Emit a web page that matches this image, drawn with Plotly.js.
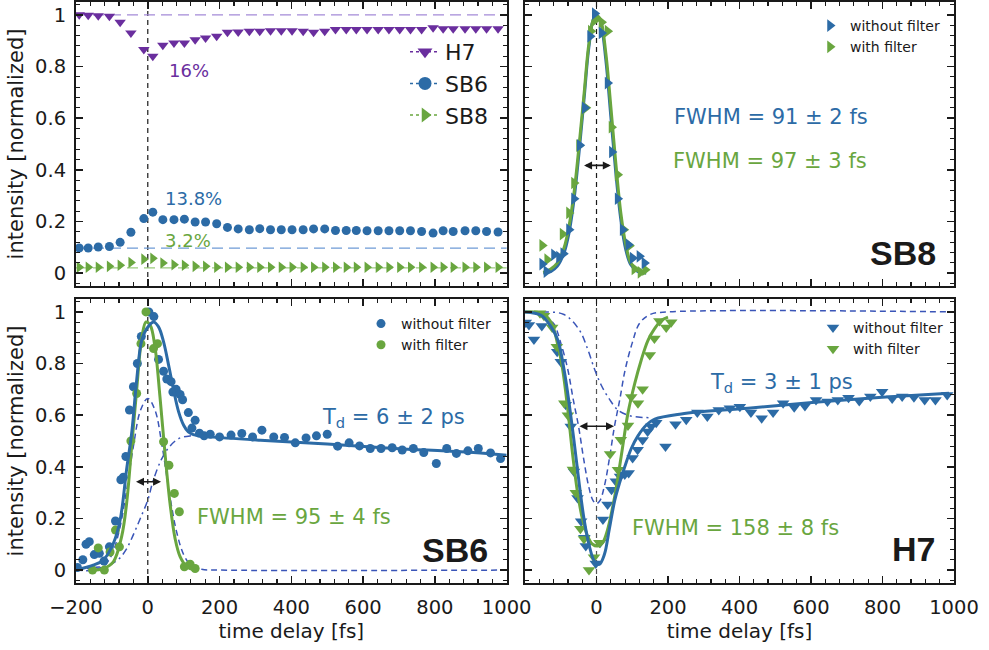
<!DOCTYPE html>
<html><head><meta charset="utf-8">
<script src="https://cdn.plot.ly/plotly-3.0.1.min.js"></script>
<style>html,body{margin:0;padding:0;background:#fff}</style>
</head><body><div id="chart" style="width:989px;height:650px"></div>
<script>
// ---------- Top-left: relative intensities vs delay ----------
const delaysTL = [-191,-166,-138,-107,-77,-47,-11,14,42,73,102,132,161,192,222,252,283,312,342,372,402,433,462,493,523,553,581,611,642,672,702,732,763,795,823,851,884,914,944,976];
const h7TL  = [1.001,0.999,0.997,0.995,0.972,0.930,0.866,0.840,0.882,0.891,0.891,0.904,0.911,0.917,0.933,0.934,0.937,0.937,0.939,0.939,0.939,0.937,0.933,0.937,0.943,0.943,0.943,0.943,0.943,0.943,0.943,0.943,0.943,0.950,0.946,0.946,0.946,0.946,0.946,0.946];
const sb6TL = [0.097,0.097,0.101,0.103,0.119,0.158,0.211,0.236,0.207,0.207,0.209,0.198,0.198,0.191,0.177,0.171,0.168,0.172,0.168,0.168,0.168,0.168,0.171,0.171,0.165,0.165,0.165,0.164,0.164,0.164,0.164,0.164,0.161,0.155,0.164,0.161,0.164,0.164,0.161,0.159];
const sb8TL = [0.023,0.023,0.023,0.026,0.030,0.041,0.054,0.057,0.039,0.032,0.030,0.026,0.026,0.023,0.023,0.023,0.023,0.023,0.023,0.023,0.023,0.023,0.023,0.023,0.023,0.023,0.023,0.023,0.023,0.023,0.023,0.023,0.023,0.023,0.023,0.023,0.023,0.023,0.023,0.023];
const baseLevelsTL = {h7: 1.0, sb6: 0.097, sb8: 0.02};
const namesTL = ['H7','SB6','SB8'];
const pctLabels = ['16%','13.8%','3.2%'];

// ---------- Top-right: SB8 ----------
const sb8NoX = [-152,-140,-119,-105,-93,-77,-63,-47,-33,-18,-5,14,31,43,59,73,89,101,120,134];
const sb8NoY = [0.035,0.006,0.071,0.062,0.075,0.168,0.288,0.495,0.640,0.917,1.005,0.930,0.736,0.469,0.288,0.168,0.110,0.058,0.065,0.039];
const sb8WiX = [-152,-138,-95,-77,-63,-49,-30,-16,-2,14,31,42,59,76,92,106,123,136];
const sb8WiY = [0.107,0.052,0.151,0.233,0.349,0.494,0.640,0.937,0.982,0.972,0.937,0.565,0.381,0.168,0.106,0.016,0.003,0.013];
const sb8FitX = [-149,-128,-110,-91,-77,-63,-49,-35,-21,-7,3,12,26,40,54,68,82,96,115,139];
const sb8FitNoY = [0.0,0.006,0.026,0.078,0.155,0.284,0.465,0.672,0.879,0.988,0.995,0.969,0.827,0.607,0.388,0.207,0.090,0.032,0.006,0.0];
const sb8FitWiY = [0.003,0.016,0.039,0.097,0.181,0.310,0.491,0.691,0.891,0.988,0.995,0.979,0.853,0.646,0.426,0.233,0.110,0.039,0.010,0.0];

// ---------- Bottom-left: SB6 ----------
const sb6NoX = [-196,-181,-172,-163,-149,-135,-122,-107,-90,-75,-68,-61,-51,-40,-29,-18,3,17,30,44,53,65,70,79,90,97,113,123,132,144,157,174,200,232,262,292,318,351,381,411,441,470,500,529,561,590,620,650,681,709,740,769,804,833,860,892,921,955,983];
const sb6NoY = [0.01,0.04,0.10,0.11,0.06,0.065,0.035,0.09,0.19,0.35,0.36,0.44,0.62,0.71,0.80,0.905,1.0,0.982,0.816,0.77,0.74,0.73,0.69,0.70,0.68,0.66,0.61,0.55,0.58,0.53,0.52,0.526,0.516,0.523,0.529,0.516,0.542,0.516,0.514,0.493,0.512,0.520,0.526,0.480,0.493,0.481,0.471,0.471,0.474,0.465,0.471,0.455,0.413,0.471,0.452,0.462,0.471,0.454,0.432];
const sb6WiX = [-154,-138,-121,-105,-90,-79,-47,-31,-19,-5,16,27,44,59,74,88,102,118,132];
const sb6WiY = [0.0,0.086,0.0,0.07,0.155,0.09,0.50,0.684,0.877,1.0,0.858,0.877,0.497,0.406,0.297,0.226,0.013,0.023,0.006];
const sb6FitNoX = [-200,-152,-124,-96,-77,-59,-45,-31,-17,-3,16,30,44,58,72,86,100,113,127,146,174,314,500,686,872,1000];
const sb6FitNoY = [0.0,0.019,0.039,0.103,0.194,0.39,0.529,0.735,0.890,0.935,0.961,0.942,0.884,0.794,0.697,0.613,0.561,0.535,0.525,0.520,0.516,0.503,0.488,0.471,0.458,0.445];
const sb6FitWiX = [-156,-124,-96,-73,-59,-45,-31,-17,-5,7,20,34,48,62,76,90,109,132];
const sb6FitWiY = [0,0.006,0.032,0.129,0.258,0.477,0.697,0.897,0.961,0.948,0.865,0.671,0.452,0.258,0.123,0.052,0.013,0];
const sb6InstX = [-200,-150,-120,-100,-80,-60,-40,-20,0,20,40,60,80,100,120,150,200,1000];
const sb6InstY = [0,0,0.02,0.06,0.15,0.30,0.48,0.62,0.665,0.62,0.48,0.30,0.15,0.06,0.02,0.003,0,0];
const sb6DelX = [-200,-150,-107,-79,-60,-47,-33,-19,0,14,37,60,87,120,160,200];
const sb6DelY = [0,0.01,0.02,0.045,0.08,0.116,0.16,0.206,0.271,0.342,0.426,0.477,0.51,0.52,0.52,0.516];

// ---------- Bottom-right: H7 ----------
const h7NoX = [-198,-189,-175,-153,-110,-100,-86,-72,-63,-53,-43,-34,-30,-2,10,18,31,42,54,66,79,90,101,115,129,143,153,167,193,221,251,282,310,342,373,401,432,462,494,522,553,583,614,646,675,705,735,766,799,827,855,888,918,948,981];
const h7NoY = [0.959,0.949,0.893,0.945,0.846,0.807,0.640,0.556,0.382,0.279,0.189,0.125,0.093,0.026,0.106,0.196,0.254,0.311,0.344,0.363,0.37,0.376,0.434,0.466,0.504,0.537,0.556,0.571,0.479,0.565,0.582,0.610,0.595,0.620,0.627,0.633,0.610,0.588,0.610,0.646,0.631,0.636,0.659,0.653,0.659,0.668,0.655,0.672,0.691,0.665,0.672,0.669,0.659,0.659,0.678];
const h7WiX = [-158,-147,-124,-111,-90,-80,-66,-58,-45,-35,-21,-7,8,38,60,68,88,97,116,129,149,162,176,195,209];
const h7WiY = [0.995,0.985,0.94,0.865,0.646,0.60,0.39,0.30,0.16,0.12,0.0,0.05,0.106,0.45,0.389,0.505,0.56,0.67,0.646,0.70,0.833,0.897,0.965,0.94,0.96];
const h7FitNoX = [-200,-155,-127,-108,-90,-76,-62,-48,-34,-20,-6,8,22,36,51,65,79,97,116,140,163,237,424,611,799,986];
const h7FitNoY = [1.0,0.987,0.942,0.89,0.77,0.64,0.49,0.33,0.19,0.093,0.035,0.022,0.06,0.16,0.27,0.34,0.40,0.47,0.52,0.563,0.585,0.605,0.627,0.650,0.669,0.685];
const h7FitWiX = [-200,-155,-127,-108,-95,-81,-67,-53,-39,-25,-11,3,17,31,51,69,88,107,125,144,163,182,200];
const h7FitWiY = [1.0,0.995,0.96,0.87,0.78,0.63,0.45,0.30,0.196,0.132,0.10,0.093,0.106,0.157,0.286,0.44,0.608,0.723,0.813,0.89,0.936,0.968,0.98];
const h7InstX = [-200,-150,-120,-100,-80,-65,-50,-37,-22,-10,0,10,22,37,50,65,80,100,120,150,200,1000];
const h7InstY = [1,0.99,0.955,0.88,0.775,0.66,0.555,0.44,0.325,0.27,0.257,0.27,0.325,0.44,0.555,0.66,0.775,0.88,0.955,0.99,1,1];
const h7DelX = [-200,-150,-91,-48,-24,-6,13,37,60,88,116,150];
const h7DelY = [1,1.0,0.99,0.93,0.853,0.78,0.717,0.66,0.62,0.60,0.593,0.59];

const legendNames = ['without filter','with filter'];
const fwhmTexts = ['FWHM = 91 ± 2 fs','FWHM = 97 ± 3 fs','FWHM = 95 ± 4 fs','FWHM = 158 ± 8 fs'];
const tdTexts = ['T<sub>d</sub> = 6 ± 2 ps','T<sub>d</sub> = 3 ± 1 ps'];
const panelNames = ['SB8','SB6','H7'];
const xTickVals = [-200,0,200,400,600,800,1000];
const xTickTextLeft = ['\u2212200','0','200','400','600','800','1000'];
const xTickTextRight = ['','0','200','400','600','800','1000'];

// ---------- styles ----------
const PURPLE='#6A2E9E', BLUE='#2C6BA6', GREEN='#69A63F', NAVY='#3A55B8', INK='#1a1a1a';
const FONT='DejaVu Sans';

const traces = [];
function mk(x,y,ax,opts){ return Object.assign({x:x,y:y,xaxis:'x'+ax,yaxis:'y'+ax,type:'scatter',showlegend:false,hoverinfo:'skip'},opts); }
// top-left data
traces.push(mk(delaysTL,h7TL,'',{mode:'markers',marker:{symbol:'triangle-down',size:10,color:PURPLE}}));
traces.push(mk(delaysTL,sb6TL,'',{mode:'markers',marker:{symbol:'circle',size:9,color:BLUE}}));
traces.push(mk(delaysTL,sb8TL,'',{mode:'markers',marker:{symbol:'triangle-right',size:10,color:GREEN}}));
// top-left legend entries
const legSym=['triangle-down','circle','triangle-right'], legCol=[PURPLE,BLUE,GREEN];
namesTL.forEach((n,i)=>traces.push(mk([null],[null],'',{name:n,showlegend:true,legend:'legend',mode:'lines+markers',line:{dash:'3px,3px',width:1.5,color:legCol[i]},marker:{symbol:legSym[i],size:13,color:legCol[i]}})));

// top-right SB8
traces.push(mk(sb8FitX,sb8FitNoY,'2',{mode:'lines',line:{color:BLUE,width:3,shape:'spline'}}));
traces.push(mk(sb8FitX,sb8FitWiY,'2',{mode:'lines',line:{color:GREEN,width:3,shape:'spline'}}));
traces.push(mk(sb8WiX,sb8WiY,'2',{name:legendNames[1],mode:'markers',marker:{symbol:'triangle-right',size:11,color:GREEN}}));
traces.push(mk(sb8NoX,sb8NoY,'2',{name:legendNames[0],mode:'markers',marker:{symbol:'triangle-right',size:11,color:BLUE}}));
traces.push(mk([null],[null],'2',{name:legendNames[0],showlegend:true,legend:'legend2',mode:'markers',marker:{symbol:'triangle-right',size:11,color:BLUE}}));
traces.push(mk([null],[null],'2',{name:legendNames[1],showlegend:true,legend:'legend2',mode:'markers',marker:{symbol:'triangle-right',size:11,color:GREEN}}));

// bottom-left SB6
traces.push(mk(sb6InstX,sb6InstY,'3',{mode:'lines',line:{color:NAVY,width:1.5,dash:'6px,4px',shape:'spline'}}));
traces.push(mk(sb6DelX,sb6DelY,'3',{mode:'lines',line:{color:NAVY,width:1.5,dash:'7px,4px,2px,4px',shape:'spline'}}));
traces.push(mk(sb6NoX,sb6NoY,'3',{mode:'markers',marker:{symbol:'circle',size:9,color:BLUE}}));
traces.push(mk(sb6WiX,sb6WiY,'3',{mode:'markers',marker:{symbol:'circle',size:9,color:GREEN}}));
traces.push(mk(sb6FitWiX,sb6FitWiY,'3',{mode:'lines',line:{color:GREEN,width:3,shape:'spline'}}));
traces.push(mk(sb6FitNoX,sb6FitNoY,'3',{mode:'lines',line:{color:BLUE,width:3,shape:'spline'}}));
traces.push(mk([null],[null],'3',{name:legendNames[0],showlegend:true,legend:'legend3',mode:'markers',marker:{symbol:'circle',size:9,color:BLUE}}));
traces.push(mk([null],[null],'3',{name:legendNames[1],showlegend:true,legend:'legend3',mode:'markers',marker:{symbol:'circle',size:9,color:GREEN}}));

// bottom-right H7
traces.push(mk(h7InstX,h7InstY,'4',{mode:'lines',line:{color:NAVY,width:1.5,dash:'6px,4px',shape:'spline'}}));
traces.push(mk(h7DelX,h7DelY,'4',{mode:'lines',line:{color:NAVY,width:1.5,dash:'7px,4px,2px,4px',shape:'spline'}}));
traces.push(mk(h7NoX,h7NoY,'4',{mode:'markers',marker:{symbol:'triangle-down',size:11,color:BLUE}}));
traces.push(mk(h7WiX,h7WiY,'4',{mode:'markers',marker:{symbol:'triangle-down',size:11,color:GREEN}}));
traces.push(mk(h7FitWiX,h7FitWiY,'4',{mode:'lines',line:{color:GREEN,width:3,shape:'spline'}}));
traces.push(mk(h7FitNoX,h7FitNoY,'4',{mode:'lines',line:{color:BLUE,width:3,shape:'spline'}}));
traces.push(mk([null],[null],'4',{name:legendNames[0],showlegend:true,legend:'legend4',mode:'markers',marker:{symbol:'triangle-down',size:11,color:BLUE}}));
traces.push(mk([null],[null],'4',{name:legendNames[1],showlegend:true,legend:'legend4',mode:'markers',marker:{symbol:'triangle-down',size:11,color:GREEN}}));

// ---------- axes ----------
const tickfont={family:FONT,size:19.5,color:INK};
function xax(dom,labels,anchor,ticktext){
  return {domain:dom,anchor:anchor,range:[-200,1000],tickmode:'array',tickvals:xTickVals,ticktext:ticktext,showticklabels:labels,tickfont:tickfont,
    showline:true,linecolor:INK,linewidth:2,mirror:'allticks',ticks:'inside',ticklen:7,tickwidth:1.5,tickcolor:INK,
    minor:{tickmode:'linear',tick0:0,dtick:40,ticks:'inside',ticklen:4,tickwidth:1.2,tickcolor:INK},showgrid:false,zeroline:false,ticklabelstandoff:6,
    title: labels?{text:'time delay [fs]',font:{family:FONT,size:20,color:INK},standoff:3}:undefined};
}
function yax(dom,labels,anchor){
  return {domain:dom,anchor:anchor,range:[-0.05,1.05],tick0:0,dtick:0.2,showticklabels:labels,tickfont:tickfont,
    showline:true,linecolor:INK,linewidth:2,mirror:'allticks',ticks:'inside',ticklen:7,tickwidth:1.5,tickcolor:INK,
    minor:{dtick:0.04,ticks:'inside',ticklen:4,tickwidth:1.2,tickcolor:INK},showgrid:false,zeroline:false,ticklabelstandoff:4,
    title: labels?{text:'intensity [normalized]',font:{family:FONT,size:21,color:INK},standoff:6}:undefined};
}
const XL=[0,0.4905], XR=[0.5114,1], YT=[0.5112,1], YB=[0,0.4888];

const P=(px)=>(px-76)/878, Q=(py)=>(583-py)/581;
function note(text,px,py,color,size,xa,bold){
  return {text:text,xref:'paper',yref:'paper',x:P(px),y:Q(py),xanchor:xa||'left',yanchor:'middle',showarrow:false,
    font:{family:bold?'Liberation Sans':FONT,size:size,color:color,weight:bold?'bold':'normal'}};
}
function arrow(ax,x0,x1,y){
  return {xref:'x'+ax,yref:'y'+ax,axref:'x'+ax,ayref:'y'+ax,x:x1,y:y,ax:x0,ay:y,text:'',showarrow:true,
    arrowhead:2,startarrowhead:2,arrowside:'end+start',arrowsize:1,startarrowsize:1,arrowwidth:1.6,arrowcolor:INK};
}
const annotations=[
  note(pctLabels[0],167,70,PURPLE,18),
  note(pctLabels[1],163,198,BLUE,18),
  note(pctLabels[2],163,241,GREEN,18),
  note(fwhmTexts[0],672,117,BLUE,21),
  note(fwhmTexts[1],671,161,GREEN,21),
  note(panelNames[0],938,253,INK,34,'right',true),
  note(tdTexts[0],320,418,BLUE,21),
  note(fwhmTexts[2],195,517,GREEN,21),
  note(panelNames[1],490,550,INK,34,'right',true),
  note(tdTexts[1],708,383,BLUE,21),
  note(fwhmTexts[3],630,528,GREEN,21),
  note(panelNames[2],937,549,INK,34,'right',true),
  arrow('2',-39,40,0.417),
  arrow('3',-37,37,0.342),
  arrow('4',-52,49,0.557)
];
function vline(ax,color){return {type:'line',xref:'x'+ax,yref:'y'+ax+' domain',x0:0,x1:0,y0:0,y1:1,line:{color:color,width:1.2,dash:'5px,4px'},layer:'below'};}
function hline(y,color){return {type:'line',xref:'x domain',yref:'y',x0:0,x1:1,y0:y,y1:y,line:{color:color,width:1.3,dash:'11px,6px'},layer:'below'};}
const shapes=[vline('',INK),vline('2',INK),vline('3',INK),vline('4','#555'),
  hline(baseLevelsTL.h7,'#A48AD8'),hline(baseLevelsTL.sb6,'#6F9BD6'),hline(baseLevelsTL.sb8,'#9CCB7E')];

const legBase={bgcolor:'rgba(0,0,0,0)',borderwidth:0,xanchor:'left',yanchor:'top',traceorder:'normal',itemclick:false,itemdoubleclick:false};
const layout={
  width:989,height:650,margin:{l:76,r:35,t:2,b:67},paper_bgcolor:'#fff',plot_bgcolor:'#fff',
  font:{family:FONT,color:INK},
  xaxis:xax(XL,false,'y',xTickTextLeft), yaxis:yax(YT,true,'x'),
  xaxis2:xax(XR,false,'y2',xTickTextRight), yaxis2:yax(YT,false,'x2'),
  xaxis3:xax(XL,true,'y3',xTickTextLeft), yaxis3:yax(YB,true,'x3'),
  xaxis4:xax(XR,true,'y4',xTickTextRight), yaxis4:yax(YB,false,'x4'),
  legend:Object.assign({},legBase,{x:P(405),y:Q(31),font:{family:FONT,size:22,color:INK}}),
  legend2:Object.assign({},legBase,{x:P(810),y:Q(10),font:{family:FONT,size:14,color:INK}}),
  legend3:Object.assign({},legBase,{x:P(361),y:Q(308),font:{family:FONT,size:14,color:INK}}),
  legend4:Object.assign({},legBase,{x:P(813),y:Q(312),font:{family:FONT,size:14,color:INK}}),
  annotations:annotations, shapes:shapes
};
Plotly.newPlot('chart',traces,layout,{displayModeBar:false,staticPlot:true});
</script></body></html>
